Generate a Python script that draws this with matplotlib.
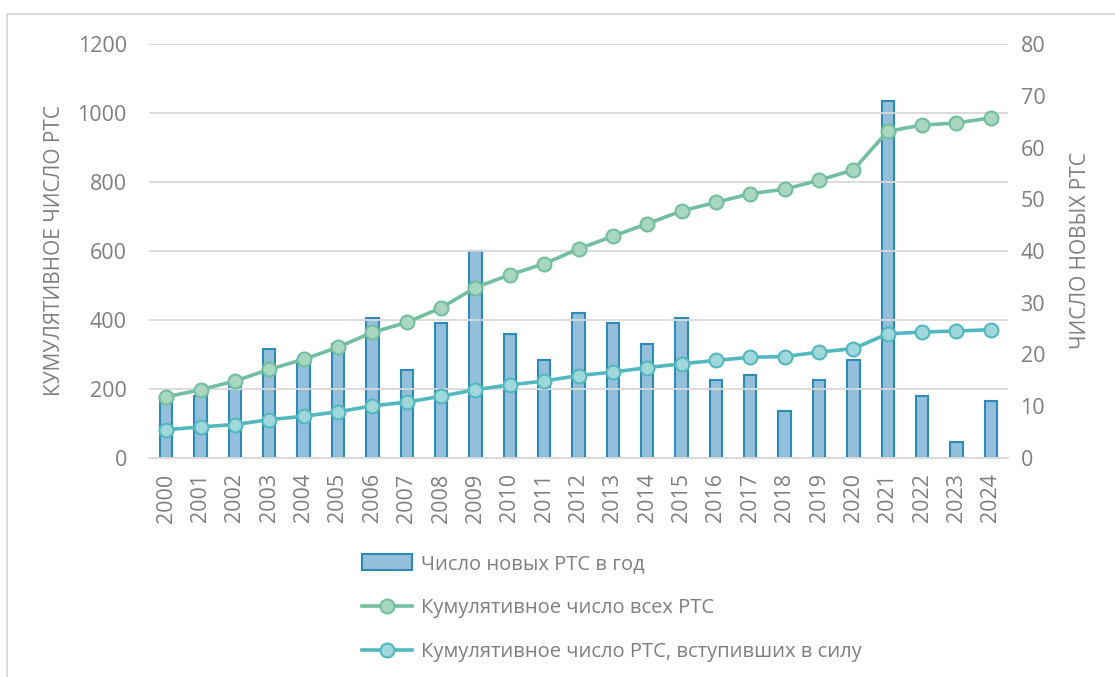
import matplotlib.pyplot as plt
import numpy as np
from matplotlib.patches import Rectangle
from matplotlib.lines import Line2D

years = [str(y) for y in range(2000, 2025)]
new_per_year = [12, 12, 14, 21, 19, 22, 27, 17, 26, 40, 24, 19, 28,
                26, 22, 27, 15, 16, 9, 15, 19, 69, 12, 3, 11]
cum_all = [177, 198, 223, 257, 286, 321, 364, 393, 435, 494, 531, 563, 606,
           643, 679, 716, 741, 766, 779, 805, 835, 947, 965, 971, 986]
cum_in_force = [82, 90, 97, 111, 121, 134, 151, 162, 179, 198, 212, 223, 239,
                249, 262, 273, 283, 292, 294, 307, 317, 360, 365, 368, 372]

text_col = '#7f7f7f'
bar_face = '#93bfdb'
bar_edge = '#2e8bb8'
green = '#72bf9f'
green_face = '#a9d6c0'
teal = '#52b8bf'
teal_face = '#9fd7db'

plt.rcParams['font.family'] = ['Open Sans', 'DejaVu Sans']

fig = plt.figure(figsize=(11.15, 6.77), dpi=100)
W, H = 1115, 677
ax = fig.add_axes([149 / W, 1 - 458 / H, (1008 - 149) / W, (458 - 44) / H])
ax2 = ax.twinx()

x = np.arange(len(years))

# bars on secondary axis
ax2.bar(x, new_per_year, width=0.36, color=bar_face, edgecolor=bar_edge,
        linewidth=1.5, zorder=2)
ax2.set_ylim(0, 80)
ax2.set_yticks(range(0, 81, 10))

# lines on primary axis, drawn above bars
ax.set_zorder(ax2.get_zorder() + 1)
ax.patch.set_visible(False)
ax.plot(x, cum_all, color=green, lw=2.6, marker='o', ms=10,
        mfc=green_face, mec=green, mew=1.5, zorder=3)
ax.plot(x, cum_in_force, color=teal, lw=2.6, marker='o', ms=10,
        mfc=teal_face, mec=teal, mew=1.5, zorder=3)
ax.set_ylim(0, 1200)
ax.set_yticks(range(0, 1201, 200))
ax.set_xlim(-0.5, len(years) - 0.5)
ax.set_xticks(x)
ax.set_xticklabels(years, rotation=90)

ax.grid(axis='y', color='#d9d9d9', lw=1.3, zorder=0)
ax.set_axisbelow(True)
for a in (ax, ax2):
    for s in a.spines.values():
        s.set_visible(False)
    a.tick_params(length=0, colors=text_col, labelsize=15.5)
ax.spines['bottom'].set_visible(True)
ax.spines['bottom'].set_color('#d9d9d9')
ax.spines['bottom'].set_linewidth(1.3)
ax.tick_params(axis='y', pad=16)
ax.tick_params(axis='x', pad=11)
ax2.tick_params(axis='y', pad=9)

ax.set_ylabel('КУМУЛЯТИВНОЕ ЧИСЛО РТС', color=text_col, fontsize=15, labelpad=9)
ax2.set_ylabel('ЧИСЛО НОВЫХ РТС', color=text_col, fontsize=15, labelpad=18)

handles = [
    Rectangle((0, 0), 1, 1, facecolor=bar_face, edgecolor=bar_edge, lw=1.5),
    Line2D([], [], color=green, lw=2.6, marker='o', ms=10, mfc=green_face,
           mec=green, mew=1.5),
    Line2D([], [], color=teal, lw=2.6, marker='o', ms=10, mfc=teal_face,
           mec=teal, mew=1.5),
]
labels = ['Число новых РТС в год', 'Кумулятивное число всех РТС',
          'Кумулятивное число РТС, вступивших в силу']
leg = fig.legend(handles, labels, loc='upper left',
                 bbox_to_anchor=(344 / W, 1 - 536 / H), frameon=False,
                 fontsize=14.5, labelcolor=text_col, handlelength=2.5,
                 handletextpad=0.4, labelspacing=1.2, handleheight=0.8)

# outer chart frame
fig.add_artist(Rectangle((7 / W, -0.1), 1.2, 1 - 14 / H + 0.1,
                         transform=fig.transFigure, fill=False,
                         edgecolor='#d9d9d9', lw=1.3))

fig.savefig('out.png', dpi=100)
